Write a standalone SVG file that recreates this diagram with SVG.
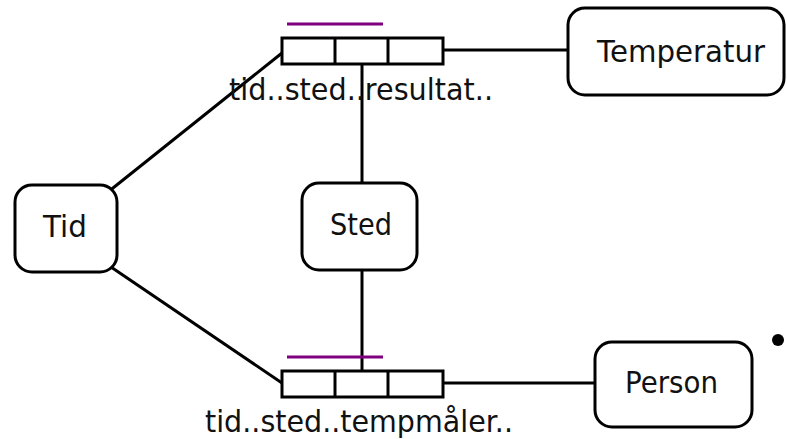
<svg xmlns="http://www.w3.org/2000/svg" width="787" height="439" viewBox="0 0 787 439">
<style>
.node{fill:#fff;stroke:#000;stroke-width:3}
.rec{fill:#fff;stroke:#000;stroke-width:3}
.t{font-family:"DejaVu Sans",Verdana,sans-serif;font-size:30px;fill:#111}
.c{stroke:#000;stroke-width:3;fill:none}
.p{stroke:#800080;stroke-width:3}
</style>
<rect width="787" height="439" fill="#fff"/>
<g id="connectors">
<line class="c" x1="108" y1="192" x2="282" y2="53"/>
<line class="c" x1="108" y1="265" x2="282" y2="383"/>
<line class="c" x1="443" y1="50" x2="568" y2="50"/>
<line class="c" x1="443" y1="383" x2="595" y2="383"/>
<line class="c" x1="362" y1="64" x2="362" y2="183"/>
<line class="c" x1="362" y1="270" x2="362" y2="371"/>
</g>
<g id="rec-top">
<line class="p" x1="287" y1="24" x2="383" y2="24"/>
<rect class="rec" x="282" y="38" width="161" height="26"/>
<line class="c" x1="335" y1="38" x2="335" y2="64"/>
<line class="c" x1="388" y1="38" x2="388" y2="64"/>
<text class="t" x="229" y="100" textLength="264" lengthAdjust="spacingAndGlyphs">tid..sted..resultat..</text>
</g>
<g id="rec-bottom">
<line class="p" x1="287" y1="357" x2="383" y2="357"/>
<rect class="rec" x="282" y="371" width="161" height="26"/>
<line class="c" x1="335" y1="371" x2="335" y2="397"/>
<line class="c" x1="388" y1="371" x2="388" y2="397"/>
<text class="t" x="205" y="432" textLength="308" lengthAdjust="spacingAndGlyphs">tid..sted..tempmåler..</text>
</g>
<g id="tid">
<rect class="node" x="15" y="185" width="102" height="87" rx="17"/>
<text class="t" x="43" y="237" textLength="44" lengthAdjust="spacingAndGlyphs">Tid</text>
</g>
<g id="sted">
<rect class="node" x="302" y="183" width="115" height="87" rx="17"/>
<text class="t" x="330" y="235" textLength="62" lengthAdjust="spacingAndGlyphs">Sted</text>
</g>
<g id="temperatur">
<rect class="node" x="568" y="8" width="216" height="87" rx="17"/>
<text class="t" x="597" y="62" textLength="168" lengthAdjust="spacingAndGlyphs">Temperatur</text>
</g>
<g id="person">
<rect class="node" x="595" y="342" width="157" height="85" rx="17"/>
<text class="t" x="625" y="393" textLength="93" lengthAdjust="spacingAndGlyphs">Person</text>
</g>
<circle cx="778" cy="340" r="6" fill="#000"/>
</svg>
